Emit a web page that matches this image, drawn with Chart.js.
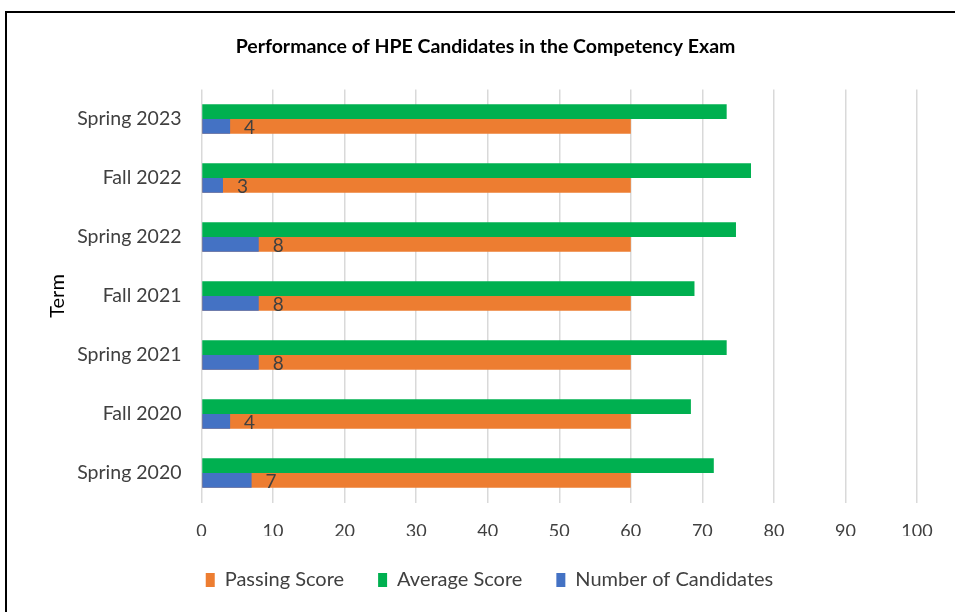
<!DOCTYPE html>
<html>
<head>
<meta charset="utf-8">
<title>Performance of HPE Candidates in the Competency Exam</title>
<script src="https://cdn.jsdelivr.net/npm/chart.js"></script>
<style>
  html, body { margin: 0; padding: 0; background: #fff; overflow: hidden; }
  #frame {
    position: absolute; left: 5px; top: 11px; width: 1000px; height: 700px;
    border-left: 2px solid #000; border-top: 2px solid #000;
  }
  #wrap { position: absolute; left: 0; top: 0; width: 955px; height: 612px; }
</style>
</head>
<body>
<div id="frame"></div>
<div id="wrap"><canvas id="examChart"></canvas></div>
<script>
// Datos del gráfico (de arriba hacia abajo, como en la imagen)
const terms = ['Spring 2023', 'Fall 2022', 'Spring 2022', 'Fall 2021', 'Spring 2021', 'Fall 2020', 'Spring 2020'];
const passingScore = [60, 60, 60, 60, 60, 60, 60];
const averageScore = [73.4, 76.8, 74.7, 68.9, 73.4, 68.4, 71.6];
const candidates = [4, 3, 8, 8, 8, 4, 7];
const xTicks = [0, 10, 20, 30, 40, 50, 60, 70, 80, 90, 100];

const FONT = 'Lato, "Open Sans", sans-serif';

// etiquetas de valor para el número de candidatos
const candidateLabels = {
  id: 'candidateLabels',
  afterLayout(chart) {
    // el título y la leyenda del original están un poco a la derecha
    if (chart.legend) { chart.legend.left += 10; chart.legend.right += 10; }
    if (chart.titleBlock) { chart.titleBlock.left += 6; chart.titleBlock.right += 6; }
  },
  afterDatasetsDraw(chart) {
    const meta = chart.getDatasetMeta(2);
    const ctx = chart.ctx;
    ctx.save();
    ctx.font = '19px ' + FONT;
    ctx.fillStyle = '#404040';
    ctx.textAlign = 'left';
    ctx.textBaseline = 'middle';
    meta.data.forEach((bar, i) => {
      ctx.fillText(String(candidates[i]), bar.x + 14, bar.y + 1);
    });
    ctx.restore();
  }
};

const canvas = document.getElementById('examChart');
new Chart(canvas, {
  type: 'bar',
  data: {
    labels: terms,
    datasets: [
      {
        label: 'Passing Score',
        data: passingScore,
        backgroundColor: '#ED7D31',
        stack: 'low',
        order: 2
      },
      {
        label: 'Average Score',
        data: averageScore,
        backgroundColor: '#00B050',
        stack: 'high',
        order: 0
      },
      {
        label: 'Number of Candidates',
        data: candidates,
        backgroundColor: '#4472C4',
        stack: 'low',
        order: 1
      }
    ]
  },
  options: {
    indexAxis: 'y',
    responsive: true,
    maintainAspectRatio: false,
    animation: false,
    categoryPercentage: 0.5,
    barPercentage: 1.0,
    layout: { padding: { left: 42, right: 38, top: 0, bottom: 12 } },
    scales: {
      x: {
        stacked: false,
        min: 0,
        max: 100,
        afterBuildTicks(scale) { scale.ticks = xTicks.map(v => ({ value: v })); },
        afterFit(scale) { scale.height = 33.5; },
        grid: { color: '#D9D9D9', lineWidth: 1.5, drawTicks: false },
        border: { display: false },
        ticks: { color: '#404040', font: { family: FONT, size: 18 }, padding: 17.5 }
      },
      y: {
        grid: { display: false, drawTicks: false },
        border: { display: false },
        afterFit(scale) { scale.width = 159.5; },
        ticks: { color: '#404040', font: { family: FONT, size: 19.5 }, padding: 20 },
        title: {
          display: true,
          text: 'Term',
          color: '#000',
          font: { family: FONT, size: 20 },
          padding: { top: 4, bottom: 0 }
        }
      }
    },
    plugins: {
      title: {
        display: true,
        text: 'Performance of HPE Candidates in the Competency Exam',
        color: '#000',
        font: { family: FONT, size: 19.5, weight: 'bold' },
        padding: { top: 35.5, bottom: 30.6 }
      },
      legend: {
        position: 'bottom',
        labels: {
          color: '#404040',
          font: { family: FONT, size: 20 },
          boxWidth: 9,
          boxHeight: 14,
          padding: 34,
          sort: (a, b) => a.datasetIndex - b.datasetIndex
        }
      },
      tooltip: { enabled: false }
    }
  },
  plugins: [candidateLabels]
});
</script>
</body>
</html>
